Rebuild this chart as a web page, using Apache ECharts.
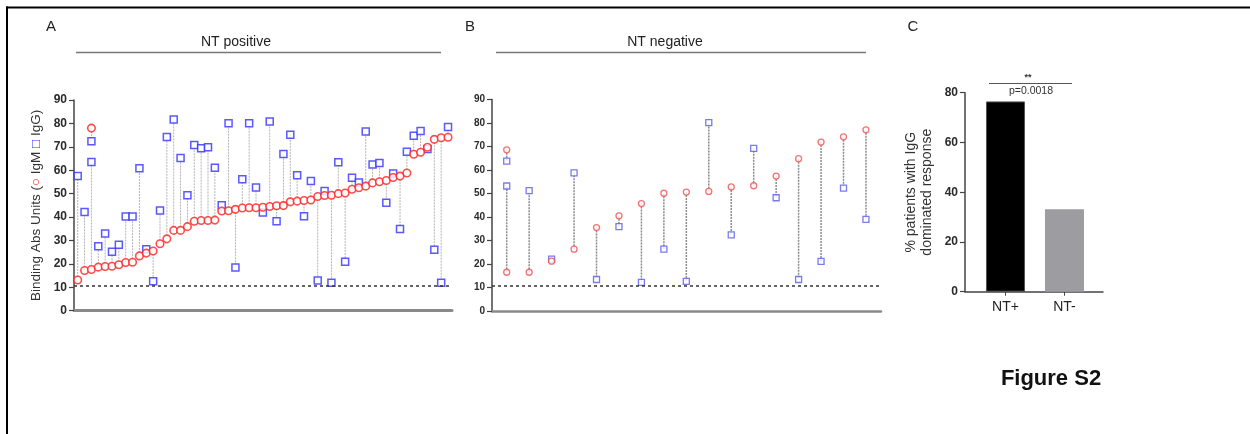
<!DOCTYPE html>
<html>
<head>
<meta charset="utf-8">
<script src="https://cdn.jsdelivr.net/npm/echarts@6/dist/echarts.min.js"></script>
<style>
html,body{margin:0;padding:0;background:#fff;}
#chart{width:1250px;height:434px;}
</style>
</head>
<body>
<div id="chart"></div>
<script>
// ---------- Panel A: NT positive (position, IgM, IgG) ----------
const aPos = [1,2,3,3,4,5,6,7,8,9,10,11,12,13,14,15,16,17,18,19,20,21,22,23,24,25,26,27,28,29,30,31,32,33,34,35,36,37,38,39,40,41,42,43,44,45,46,47,48,49,50,51,52,53,54,55];
const aIgM = [13.1,17.2,78.0,17.6,18.6,18.9,19.0,19.6,20.6,20.7,23.4,24.6,25.5,28.6,30.7,34.3,34.3,35.9,38.2,38.5,38.5,38.7,42.6,42.7,43.3,43.9,44.0,44.0,44.2,44.5,44.8,44.9,46.5,46.8,47.1,47.3,48.8,49.2,49.3,50.0,50.3,51.9,52.5,53.2,54.6,55.1,55.6,56.9,57.5,58.8,66.8,67.7,69.8,73.2,73.9,74.1];
const aIgG = [57.5,42.2,72.4,63.5,27.5,33.0,25.2,28.2,40.2,40.2,60.8,26.3,12.6,42.8,74.2,81.7,65.2,49.3,70.8,69.4,69.8,61.1,45.0,80.1,18.5,56.1,80.1,52.6,41.9,80.8,38.2,66.9,75.2,57.9,40.3,55.4,12.9,51.1,11.9,63.4,20.9,56.8,54.8,76.5,62.5,63.1,46.1,58.6,34.9,67.9,74.7,76.8,69.1,26.0,11.9,78.5];

// ---------- Panel B: NT negative ----------
const bPos = [1,1,2,3,4,5,6,7,8,9,10,11,12,13,14,15,16,17];
const bIgM = [68.6,16.5,16.5,21.2,26.3,35.5,40.5,45.7,50.1,50.6,50.9,52.8,53.3,57.4,64.8,71.9,74.1,77.1];
const bIgG = [63.8,53.2,51.2,22.1,58.8,13.4,35.9,12.2,26.3,12.6,80.2,32.4,69.2,48.2,13.4,21.1,52.3,39.0];

// ---------- Panel C ----------
const cCats = ['NT+','NT-'];
const cVals = [76.5, 33.1];

// threshold & ticks
const threshold = 10.7;
const abTicks = [0,90,10];
const cTicks = [0,80,20];

const FONT = '"Liberation Sans", Arial, sans-serif';
const chart = echarts.init(document.getElementById('chart'), null, {renderer:'canvas'});

function pairs(pos, m, g){ return pos.map((p,i)=>[p, m[i], g[i]]); }
function pts(pos, v){ return pos.map((p,i)=>[p, v[i]]); }

function connector(gridIdx, color, width, dash){
  return {
    type:'custom', xAxisIndex:gridIdx, yAxisIndex:gridIdx, z:1, silent:true,
    data: gridIdx===0 ? pairs(aPos,aIgM,aIgG) : pairs(bPos,bIgM,bIgG),
    encode:{x:0, y:[1,2]},
    renderItem:function(params, api){
      const x = api.value(0);
      const p1 = api.coord([x, api.value(1)]);
      const p2 = api.coord([x, api.value(2)]);
      return {type:'line', shape:{x1:p1[0],y1:p1[1],x2:p2[0],y2:p2[1]},
        style:{stroke:color, lineWidth:width, lineDash:dash}};
    }
  };
}

function yAxisAB(gridIdx, fontSize, name){
  const ax = {
    type:'value', gridIndex:gridIdx, min:abTicks[0], max:abTicks[1], interval:abTicks[2],
    axisLine:{show:true, lineStyle:{color:'#444', width:1.5}},
    axisTick:{show:true, length:5, lineStyle:{color:'#444', width:1.2}},
    axisLabel:{fontFamily:FONT, fontSize:fontSize, fontWeight:'bold', color:'#2a2a2a', margin:7},
    splitLine:{show:false}
  };
  if(name){
    ax.name = name;
    ax.nameLocation = 'middle';
    ax.nameGap = 31;
    ax.nameTextStyle = {fontFamily:FONT, fontSize:13.5, color:'#333',
      rich:{r:{color:'#ff2020', fontSize:13.5, fontFamily:FONT}, b:{color:'#3434ff', fontSize:13.5, fontFamily:FONT}}};
  }
  return ax;
}

const option = {
  animation:false,
  backgroundColor:'#fff',
  grid:[
    {left:74, top:100, width:378, height:210.7},
    {left:492, top:99.5, width:389, height:211.5},
    {left:965, top:92.7, width:138, height:199}
  ],
  xAxis:[
    {type:'value', gridIndex:0, min:0.46, max:55.58,
      axisLine:{show:true, onZero:false, lineStyle:{color:'#8a8a8a', width:3}},
      axisTick:{show:false}, axisLabel:{show:false}, splitLine:{show:false}},
    {type:'value', gridIndex:1, min:0.345, max:17.67,
      axisLine:{show:true, onZero:false, lineStyle:{color:'#8a8a8a', width:2.5}},
      axisTick:{show:false}, axisLabel:{show:false}, splitLine:{show:false}},
    {type:'value', gridIndex:2, min:0.314, max:2.653,
      axisLine:{show:true, onZero:false, lineStyle:{color:'#444', width:1.5}},
      axisTick:{show:true, length:4, customValues:[1,2], lineStyle:{color:'#444'}},
      axisLabel:{show:true, customValues:[1,2], formatter:function(v){return cCats[Math.round(v)-1];},
        fontFamily:FONT, fontSize:14, color:'#222', margin:8},
      splitLine:{show:false}}
  ],
  yAxis:[
    yAxisAB(0, 12, 'Binding Abs Units ({r|○} IgM {b|□} IgG)'),
    yAxisAB(1, 10, null),
    {type:'value', gridIndex:2, min:cTicks[0], max:cTicks[1], interval:cTicks[2],
      name:'% patients with IgG\ndominated response', nameLocation:'middle', nameGap:30,
      nameTextStyle:{fontFamily:FONT, fontSize:14, color:'#333', lineHeight:16},
      axisLine:{show:true, lineStyle:{color:'#444', width:1.5}},
      axisTick:{show:true, length:5, lineStyle:{color:'#444', width:1.2}},
      axisLabel:{fontFamily:FONT, fontSize:12, fontWeight:'bold', color:'#2a2a2a', margin:7},
      splitLine:{show:false}}
  ],
  series:[
    connector(0, '#b4b4b4', 1, [2,1]),
    {type:'scatter', xAxisIndex:0, yAxisIndex:0, z:3, symbol:'rect', symbolSize:7,
      data:pts(aPos,aIgG), itemStyle:{color:'#fff', borderColor:'#3030ff', borderWidth:1.5},
      markLine:{silent:true, symbol:'none', label:{show:false},
        lineStyle:{color:'#333', width:1.5, type:[3,3]}, data:[{yAxis:threshold}]}},
    {type:'scatter', xAxisIndex:0, yAxisIndex:0, z:4, symbol:'circle', symbolSize:7.5,
      data:pts(aPos,aIgM), itemStyle:{color:'#fff', borderColor:'#ff1f1f', borderWidth:1.6}},
    connector(1, '#8c8c8c', 1.5, [2,1]),
    {type:'scatter', xAxisIndex:1, yAxisIndex:1, z:3, symbol:'rect', symbolSize:6,
      data:pts(bPos,bIgG), itemStyle:{color:'#fff', borderColor:'#5858ee', borderWidth:1.3},
      markLine:{silent:true, symbol:'none', label:{show:false},
        lineStyle:{color:'#333', width:1.5, type:[3,3]}, data:[{yAxis:threshold}]}},
    {type:'scatter', xAxisIndex:1, yAxisIndex:1, z:4, symbol:'circle', symbolSize:6,
      data:pts(bPos,bIgM), itemStyle:{color:'#fff', borderColor:'#ee5050', borderWidth:1.3}},
    {type:'bar', xAxisIndex:2, yAxisIndex:2, barWidth:39,
      data:[
        {value:[1,cVals[0]], itemStyle:{color:'#000', borderColor:'#555', borderWidth:1}},
        {value:[2,cVals[1]], itemStyle:{color:'#9d9da1'}}
      ]}
  ],
  graphic:[
    // frame
    {type:'line', shape:{x1:6, y1:7.5, x2:1250, y2:7.5}, style:{stroke:'#000', lineWidth:2}},
    {type:'line', shape:{x1:7, y1:6.5, x2:7, y2:434}, style:{stroke:'#000', lineWidth:2}},
    // panel letters
    {type:'text', x:51, y:27, style:{text:'A', font:'15px '+FONT, fill:'#222', textAlign:'center', textVerticalAlign:'middle'}},
    {type:'text', x:470, y:27, style:{text:'B', font:'15px '+FONT, fill:'#222', textAlign:'center', textVerticalAlign:'middle'}},
    {type:'text', x:913, y:27, style:{text:'C', font:'15px '+FONT, fill:'#222', textAlign:'center', textVerticalAlign:'middle'}},
    // headers
    {type:'text', x:236, y:42, style:{text:'NT positive', font:'14px '+FONT, fill:'#222', textAlign:'center', textVerticalAlign:'middle'}},
    {type:'line', shape:{x1:76, y1:52.5, x2:441, y2:52.5}, style:{stroke:'#777', lineWidth:1.5}},
    {type:'text', x:665, y:42, style:{text:'NT negative', font:'14px '+FONT, fill:'#222', textAlign:'center', textVerticalAlign:'middle'}},
    {type:'line', shape:{x1:496, y1:52.5, x2:866, y2:52.5}, style:{stroke:'#777', lineWidth:1.5}},
    // significance
    {type:'line', shape:{x1:989, y1:83.5, x2:1072, y2:83.5}, style:{stroke:'#555', lineWidth:1}},
    {type:'text', x:1028, y:78, style:{text:'**', font:'bold 9px '+FONT, fill:'#333', textAlign:'center', textVerticalAlign:'middle'}},
    {type:'text', x:1031, y:91, style:{text:'p=0.0018', font:'10.5px '+FONT, fill:'#333', textAlign:'center', textVerticalAlign:'middle'}},
    // figure label
    {type:'text', x:1051, y:379, style:{text:'Figure S2', font:'bold 22px '+FONT, fill:'#111', textAlign:'center', textVerticalAlign:'middle'}}
  ]
};
chart.setOption(option);
</script>
</body>
</html>
